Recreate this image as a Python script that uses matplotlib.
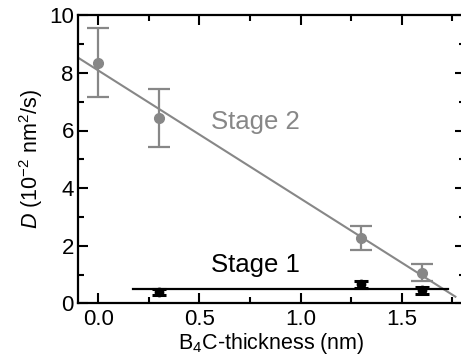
import matplotlib
matplotlib.use("Agg")
import matplotlib.pyplot as plt
import numpy as np

plt.rcParams['font.family'] = ['Liberation Sans', 'DejaVu Sans']
plt.rcParams['mathtext.fontset'] = 'custom'
plt.rcParams['mathtext.rm'] = 'Liberation Sans'
plt.rcParams['mathtext.it'] = 'Liberation Sans:italic'

# Stage 2 data
s2_x = [0.0, 0.3, 1.3, 1.6]
s2_y = [8.35, 6.43, 2.28, 1.06]
s2_err = [1.2, 1.0, 0.42, 0.29]
s2_fit_x = [-0.1, 1.765]
s2_fit_y = [8.53, 0.23]

# Stage 1 data
s1_x = [0.3, 1.3, 1.6]
s1_y = [0.40, 0.66, 0.46]
s1_err = [0.11, 0.13, 0.12]
s1_fit_x = [0.17, 1.73]
s1_fit_y = [0.51, 0.51]

gray = '#878787'

fig = plt.figure(figsize=(4.61, 3.6), dpi=100)
ax = fig.add_axes([78/461, 56.7/360, 386.5/461, 288/360])

ax.plot(s2_fit_x, s2_fit_y, color=gray, lw=1.5, zorder=2)
ax.errorbar(s2_x, s2_y, yerr=s2_err, fmt='o', color=gray, ms=7, lw=1.6,
            capsize=8, capthick=1.6, zorder=3)
ax.plot(s1_fit_x, s1_fit_y, color='black', lw=1.6, zorder=2)
ax.errorbar(s1_x, s1_y, yerr=s1_err, fmt='o', color='black', ms=6, lw=2.5,
            capsize=5, capthick=2.2, zorder=3)

ax.text(0.776, 6.3, 'Stage 2', color=gray, fontsize=18.5, ha='center', va='center')
ax.text(0.776, 1.33, 'Stage 1', color='black', fontsize=18.5, ha='center', va='center')

ax.set_xlim(-0.1, 1.81)
ax.set_ylim(0, 10)
ax.set_xticks([0.0, 0.5, 1.0, 1.5])
ax.set_xticks([0.25, 0.75, 1.25, 1.75], minor=True)
ax.set_yticks([0, 2, 4, 6, 8, 10])
ax.set_yticks([1, 3, 5, 7, 9], minor=True)
ax.set_xticklabels(['0.0', '0.5', '1.0', '1.5'])
ax.tick_params(which='both', direction='in', top=True, right=True, labelsize=16, width=1.5)
ax.tick_params(which='major', length=7)
ax.tick_params(which='minor', length=4)
ax.tick_params(axis='x', pad=4)
ax.tick_params(axis='y', pad=3)
for s in ax.spines.values():
    s.set_linewidth(1.6)

ax.set_xlabel('B$_4$C-thickness (nm)', fontsize=15.5, labelpad=1)
ax.set_ylabel(r'$D$ (10$^{-2}$ nm$^2$/s)', fontsize=15.5, labelpad=3)

fig.savefig('out.png', dpi=100)
